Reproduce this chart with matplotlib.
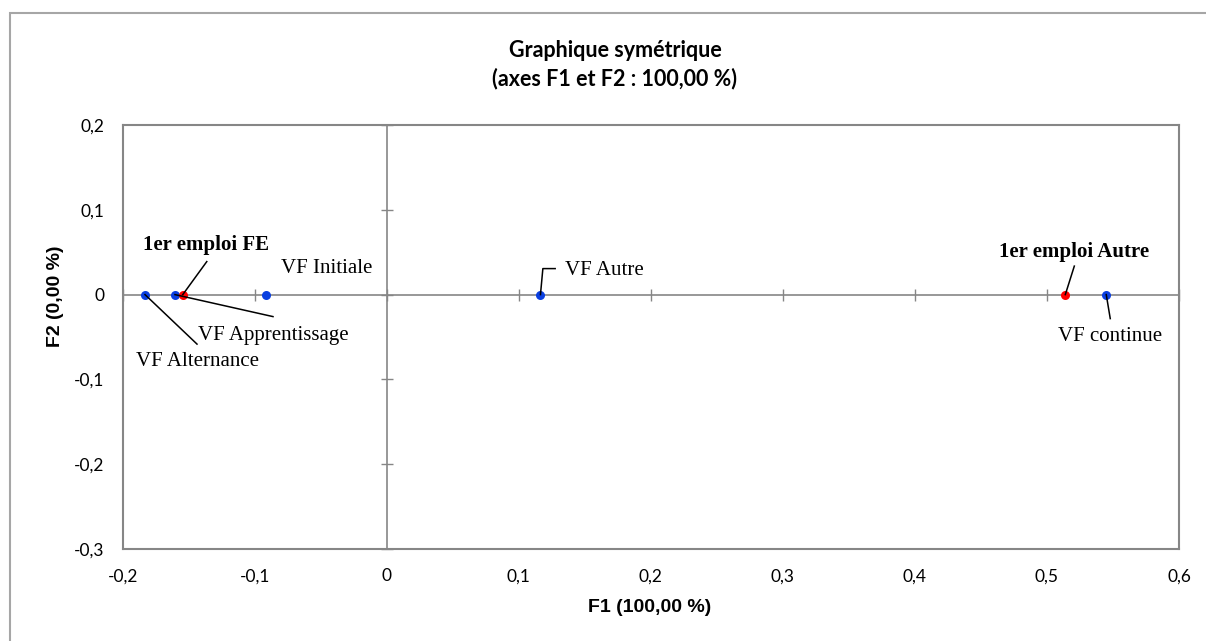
import matplotlib
matplotlib.use("Agg")
import matplotlib.pyplot as plt
from matplotlib.patches import Rectangle
from matplotlib.lines import Line2D
from matplotlib.transforms import IdentityTransform

# ---- data ----
labels = ["VF Alternance", "VF Apprentissage", "VF Initiale", "VF Autre", "VF continue",
          "1er emploi FE", "1er emploi Autre"]
f1 = [-0.1831, -0.1604, -0.0917, 0.1164, 0.5449, -0.1545, 0.5139]
f2 = [0.0, 0.0, 0.0, 0.0, 0.0, 0.0, 0.0]
groups = ["col", "col", "col", "col", "col", "row", "row"]

x_ticks = [-0.2, -0.1, 0.0, 0.1, 0.2, 0.3, 0.4, 0.5, 0.6]
y_ticks = [-0.3, -0.2, -0.1, 0.0, 0.1, 0.2]
x_tick_labels = ["-0,2", "-0,1", "0", "0,1", "0,2", "0,3", "0,4", "0,5", "0,6"]
y_tick_labels = ["-0,3", "-0,2", "-0,1", "0", "0,1", "0,2"]

title = "Graphique symétrique\n(axes F1 et F2 : 100,00 %)"
xlabel = "F1 (100,00 %)"
ylabel = "F2 (0,00 %)"

# ---- style ----
W, H = 1206, 641
DPI = 100
colors = {"col": "#0a3fe0", "row": "#ff0000"}
GRAY = "#868686"
serif = ["Liberation Serif", "DejaVu Serif"]
sans = ["Lato", "DejaVu Sans"]
arial = ["Liberation Sans", "DejaVu Sans"]

# label placement (pixel offsets from the point: text centre, leader path)
label_layout = {
    "VF Alternance":    dict(text=(52, -67),  leader=[(52, -49.5)], bold=False),
    "VF Apprentissage": dict(text=(98, -40.5), leader=[(98, -22)], bold=False),
    "VF Initiale":      dict(text=(61, 26.5), leader=None, bold=False),
    "VF Autre":         dict(text=(64, 24.5), leader=[(2.4, 26), (14.7, 26)], bold=False),
    "VF continue":      dict(text=(4, -41.5), leader=[(4, -24)], bold=False),
    "1er emploi FE":    dict(text=(23, 49.5), leader=[(24, 33)], bold=True),
    "1er emploi Autre": dict(text=(9, 42.8), leader=[(9, 28.5)], bold=True),
}

fig = plt.figure(figsize=(W / DPI, H / DPI), dpi=DPI)
fig.patch.set_facecolor("white")

# outer chart border
fig.patches.append(Rectangle((10 / W, -0.1), 1.2, (H - 13) / H + 0.1,
                             transform=fig.transFigure, fill=False,
                             edgecolor="#a6a6a6", linewidth=1.5, zorder=0))

left, right, top, bottom = 122.7, 1179, 125, 549
rect = [left / W, 1 - bottom / H, (right - left) / W, (bottom - top) / H]

# frame axes with tick labels
ax0 = fig.add_axes(rect)
ax0.set_xlim(x_ticks[0], x_ticks[-1])
ax0.set_ylim(y_ticks[0], y_ticks[-1])
ax0.set_xticks(x_ticks)
ax0.set_xticklabels(x_tick_labels, fontfamily=sans, fontsize=12.5)
ax0.set_yticks(y_ticks)
ax0.set_yticklabels(y_tick_labels, fontfamily=sans, fontsize=12.5)
ax0.tick_params(axis="x", length=0, pad=14)
ax0.tick_params(axis="y", length=0, pad=13)
for s in ax0.spines.values():
    s.set_color(GRAY)
    s.set_linewidth(1.5)

# axes through zero with crossing ticks
ax = fig.add_axes(rect, sharex=ax0, sharey=ax0)
ax.patch.set_alpha(0)
ax.spines["left"].set_position(("data", 0))
ax.spines["bottom"].set_position(("data", 0))
ax.spines["top"].set_visible(False)
ax.spines["right"].set_visible(False)
for s in ("left", "bottom"):
    ax.spines[s].set_color(GRAY)
    ax.spines[s].set_linewidth(1.2)
ax.tick_params(direction="inout", length=9, width=1, color=GRAY,
               labelbottom=False, labelleft=False)

# points, labels and leader lines
for name, x, y, g in zip(labels, f1, f2, groups):
    ax.plot(x, y, "o", color=colors[g], markersize=6.5, markeredgewidth=0, zorder=5)
    lay = label_layout[name]
    ax.annotate(name, xy=(x, y), xytext=lay["text"], textcoords="offset pixels",
                ha="center", va="center", fontsize=15, fontfamily=serif,
                fontweight="bold" if lay["bold"] else "normal", color="black")
    if lay["leader"]:
        px, py = ax.transData.transform((x, y))
        pts = [(0, 0)] + lay["leader"]
        fig.lines.append(Line2D([px + dx for dx, dy in pts], [py + dy for dx, dy in pts],
                                transform=IdentityTransform(), color="black", lw=1.1,
                                zorder=4))

fig.text(615 / W, 1 - 64.5 / H, title, ha="center", va="center", fontsize=15.5,
         fontweight="bold", fontfamily=sans, linespacing=1.4)
fig.text(650 / W, 1 - 608 / H, xlabel, ha="center", va="center", fontsize=14,
         fontweight="bold", fontfamily=arial)
fig.text(56 / W, 1 - 296 / H, ylabel, ha="center", va="center", fontsize=14,
         fontweight="bold", fontfamily=arial, rotation=90)

fig.savefig("out.png", dpi=DPI)
